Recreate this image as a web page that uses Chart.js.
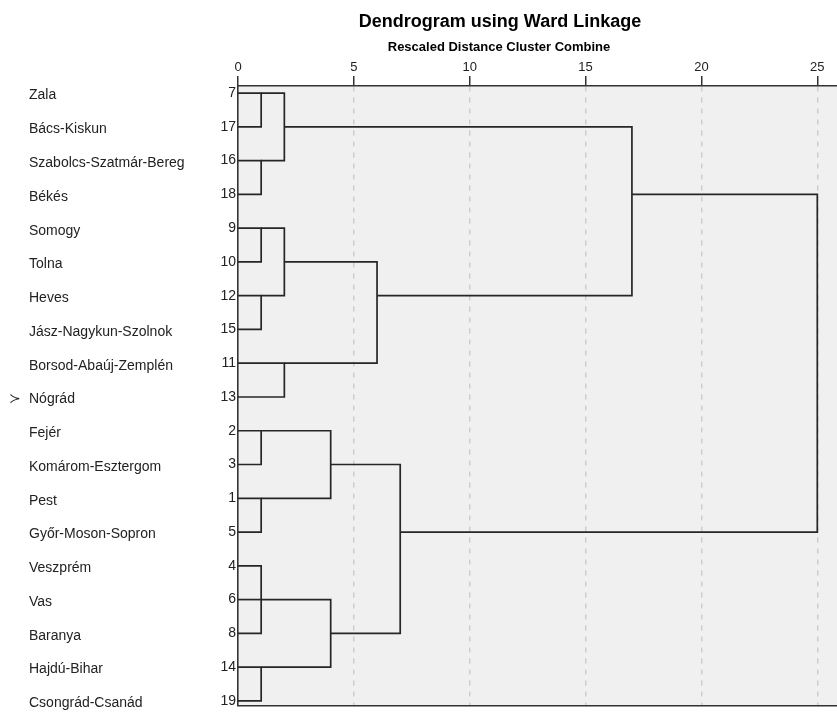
<!DOCTYPE html>
<html>
<head>
<meta charset="utf-8">
<script src="https://cdn.jsdelivr.net/npm/chart.js@4/dist/chart.umd.min.js"></script>
<style>
html,body{margin:0;padding:0;background:#fff}
canvas{display:block}
</style>
</head>
<body>
<canvas id="c" width="837" height="716"></canvas>
<script>
// ---------- data ----------
const titleText = 'Dendrogram using Ward Linkage';
const subtitleText = 'Rescaled Distance Cluster Combine';
const caseNames = ['Zala','Bács-Kiskun','Szabolcs-Szatmár-Bereg','Békés','Somogy','Tolna','Heves',
  'Jász-Nagykun-Szolnok','Borsod-Abaúj-Zemplén','Nógrád','Fejér','Komárom-Esztergom','Pest',
  'Győr-Moson-Sopron','Veszprém','Vas','Baranya','Hajdú-Bihar','Csongrád-Csanád'];
const caseIds = [7,17,16,18,9,10,12,15,11,13,2,3,1,5,4,6,8,14,19];
const xTickValues = [0,5,10,15,20,25];
// merge steps (rescaled distance) and the clusters they join:
// 'L<row>' = single case in that row, 'M<k>' = result of merge step k
const mergeDistance = [1,1,2,1,1,2,2,6,17,1,1,4,1,1,4,7,25];
const mergeChildren = [
  ['L0','L1'], ['L2','L3'], ['M0','M1'],
  ['L4','L5'], ['L6','L7'], ['M3','M4'], ['L8','L9'], ['M5','M6'],
  ['M2','M7'],
  ['L10','L11'], ['L12','L13'], ['M9','M10'],
  ['L14','L15','L16'], ['L17','L18'], ['M12','M13'],
  ['M11','M14'],
  ['M8','M15']
];
const markedRow = 9;
const markerText = '≻';

// ---------- build bracket lines from the merge table ----------
const lineColor = '#262626';
const nodeRow = {}, nodeDist = {};
caseIds.forEach((_, i) => { nodeRow['L' + i] = i; nodeDist['L' + i] = 0; });
const datasets = [];
function seg(points) {
  return {
    data: points, xAxisID: 'x', yAxisID: 'yNum',
    borderColor: lineColor, borderWidth: 1.7, pointRadius: 0, tension: 0,
    fill: false, borderJoinStyle: 'miter', borderCapStyle: 'butt', clip: false
  };
}
mergeChildren.forEach((kids, m) => {
  const d = mergeDistance[m];
  const rows = kids.map(k => nodeRow[k]);
  const starts = kids.map(k => nodeDist[k]);
  const last = kids.length - 1;
  datasets.push(seg([
    {x: starts[0], y: rows[0]}, {x: d, y: rows[0]},
    {x: d, y: rows[last]}, {x: starts[last], y: rows[last]}
  ]));
  for (let i = 1; i < last; i++) {
    datasets.push(seg([{x: starts[i], y: rows[i]}, {x: d, y: rows[i]}]));
  }
  nodeRow['M' + m] = Math.floor((Math.min(...rows) + Math.max(...rows)) / 2);
  nodeDist['M' + m] = d;
});

const FONT = "'Liberation Sans', Arial, sans-serif";

const decor = {
  id: 'decor',
  beforeDraw(chart) {
    const {ctx, chartArea: a} = chart;
    ctx.save();
    ctx.fillStyle = '#f0f0f0';
    ctx.fillRect(a.left, a.top, a.right - a.left, a.bottom - a.top);
    ctx.restore();
  },
  afterDraw(chart) {
    const {ctx} = chart;
    ctx.save();
    ctx.fillStyle = '#000';
    ctx.textAlign = 'center';
    ctx.textBaseline = 'middle';
    ctx.font = 'bold 18px ' + FONT;
    ctx.fillText(titleText, 500, 22);
    ctx.font = 'bold 13px ' + FONT;
    ctx.fillText(subtitleText, 499, 47);
    const y = chart.scales.yNum.getPixelForValue(markedRow) + 2;
    ctx.textAlign = 'left';
    ctx.font = "14px 'DejaVu Sans', sans-serif";
    ctx.fillStyle = '#222';
    ctx.fillText(markerText, 9, y);
    ctx.restore();
  }
};

const yCommon = {
  type: 'linear', position: 'left', reverse: true, min: -0.21, max: 18.14,
  afterBuildTicks: s => { s.ticks = caseIds.map((_, i) => ({value: i})); },
  grid: {display: false, drawTicks: false}
};

new Chart(document.getElementById('c'), {
  type: 'line',
  data: {datasets},
  options: {
    responsive: false, animation: false, events: [],
    layout: {padding: {top: 56, left: 29, right: 0, bottom: 3}},
    plugins: {legend: {display: false}, tooltip: {enabled: false}, title: {display: false}},
    scales: {
      x: {
        type: 'linear', position: 'top', min: 0, max: 25.85,
        afterBuildTicks: s => { s.ticks = xTickValues.map(v => ({value: v})); },
        afterFit: s => { s.height = 30; },
        ticks: {font: {family: FONT, size: 13}, color: '#222', padding: 1, maxRotation: 0, autoSkip: false},
        grid: {
          color: c => (c.tick && c.tick.value === 0) ? 'rgba(0,0,0,0)' : '#cdcdcd',
          lineWidth: 1.5, tickLength: 10, tickColor: '#333', tickWidth: 1.5
        },
        border: {display: true, color: '#333', width: 1.6, dash: [5, 6]}
      },
      xb: {
        type: 'linear', position: 'bottom', min: 0, max: 1,
        afterFit: s => { s.height = 0; },
        ticks: {display: false},
        grid: {display: false, drawTicks: false},
        border: {display: true, color: '#333', width: 1.6}
      },
      yNum: Object.assign({}, yCommon, {
        weight: 0,
        afterFit: s => { s.width = 19; },
        ticks: {callback: v => caseIds[v], padding: 2, font: {family: FONT, size: 14}, color: '#222', autoSkip: false},
        border: {display: true, color: '#333', width: 1.6}
      }),
      yName: Object.assign({}, yCommon, {
        weight: 1,
        afterFit: s => { s.width = 190; },
        ticks: {callback: v => caseNames[v], crossAlign: 'far', padding: 0, labelOffset: 2.5,
                font: {family: FONT, size: 14}, color: '#222', autoSkip: false},
        border: {display: false}
      })
    }
  },
  plugins: [decor]
});
</script>
</body>
</html>
